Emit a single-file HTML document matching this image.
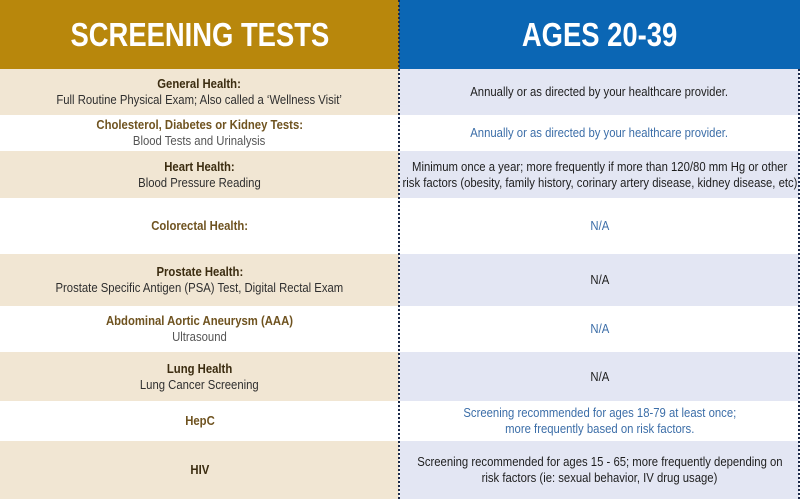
<!DOCTYPE html>
<html><head><meta charset="utf-8"><style>
*{margin:0;padding:0;box-sizing:border-box}
body{width:800px;height:499px;overflow:hidden;background:#fff;font-family:"Liberation Sans",sans-serif;position:relative}
.c{position:absolute;display:flex;flex-direction:column;justify-content:center;align-items:center;text-align:center;font-size:13px;line-height:16px}
.c>div{white-space:nowrap;transform:scaleX(0.87)}
.l{left:0;width:399px}
.r{left:400px;width:399px}
.b{background:#f1e6d3}.v{background:#e3e6f3}.w{background:#fff}
.h{font-weight:bold;color:#3b2c10}
.h2{font-weight:bold;color:#6f5320}
.s{color:#2f2f2f}.s2{color:#555}
.dk{color:#1e1e1e}.bl{color:#3c6ea8}
.hd{position:absolute;top:0;height:69px;display:flex;align-items:center;justify-content:center;color:#fff;font-weight:bold;font-size:33px}
.hd span{display:inline-block;white-space:nowrap;transform:scaleX(0.83)}
.div{position:absolute;left:398px;top:0;width:2px;height:499px;border-left:2px dotted #1d2a4a}
.rb{position:absolute;left:798px;top:69px;width:2px;height:430px;border-left:2px dotted #1d2a4a}
</style></head><body>
<div class="hd" style="left:0;width:399px;background:#b8870c"><span>SCREENING TESTS</span></div>
<div class="hd" style="left:399px;width:401px;background:#0b66b4"><span>AGES 20-39</span></div>

<div class="c l b" style="top:69px;height:46px"><div class="h">General Health:</div><div class="s">Full Routine Physical Exam; Also called a ‘Wellness Visit’</div></div>
<div class="c r v dk" style="top:69px;height:46px"><div>Annually or as directed by your healthcare provider.</div></div>

<div class="c l w" style="top:115px;height:36px"><div class="h2">Cholesterol, Diabetes or Kidney Tests:</div><div class="s2">Blood Tests and Urinalysis</div></div>
<div class="c r w bl" style="top:115px;height:36px"><div>Annually or as directed by your healthcare provider.</div></div>

<div class="c l b" style="top:151px;height:47px"><div class="h">Heart Health:</div><div class="s">Blood Pressure Reading</div></div>
<div class="c r v dk" style="top:151px;height:47px"><div>Minimum once a year; more frequently if more than 120/80 mm Hg or other</div><div>risk factors (obesity, family history, corinary artery disease, kidney disease, etc)</div></div>

<div class="c l w" style="top:198px;height:56px"><div class="h2">Colorectal Health:</div></div>
<div class="c r w bl" style="top:198px;height:56px"><div>N/A</div></div>

<div class="c l b" style="top:254px;height:52px"><div class="h">Prostate Health:</div><div class="s">Prostate Specific Antigen (PSA) Test, Digital Rectal Exam</div></div>
<div class="c r v dk" style="top:254px;height:52px"><div>N/A</div></div>

<div class="c l w" style="top:306px;height:46px"><div class="h2">Abdominal Aortic Aneurysm (AAA)</div><div class="s2">Ultrasound</div></div>
<div class="c r w bl" style="top:306px;height:46px"><div>N/A</div></div>

<div class="c l b" style="top:352px;height:49px"><div class="h">Lung Health</div><div class="s">Lung Cancer Screening</div></div>
<div class="c r v dk" style="top:352px;height:49px"><div>N/A</div></div>

<div class="c l w" style="top:401px;height:40px"><div class="h2">HepC</div></div>
<div class="c r w bl" style="top:401px;height:40px"><div>Screening recommended for ages 18-79 at least once;</div><div>more frequently based on risk factors.</div></div>

<div class="c l b" style="top:441px;height:58px"><div class="h">HIV</div></div>
<div class="c r v dk" style="top:441px;height:58px"><div>Screening recommended for ages 15 - 65; more frequently depending on</div><div>risk factors (ie: sexual behavior, IV drug usage)</div></div>

<div class="div"></div>
<div class="rb"></div>
</body></html>
